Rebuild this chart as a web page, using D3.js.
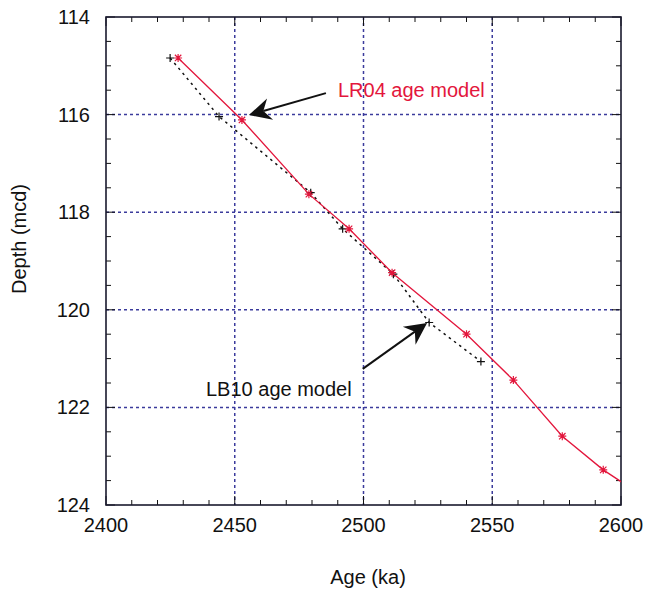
<!DOCTYPE html>
<html>
<head>
<meta charset="utf-8">
<script src="https://cdn.jsdelivr.net/npm/d3@7"></script>
<style>
  body { margin: 0; background: #fff; }
  text { font-family: "Liberation Sans", Arial, sans-serif; }
</style>
</head>
<body>
<svg id="chart" width="645" height="592"></svg>
<script>
// LR04 age model (age ka, depth mcd)
var lr04Age   = [2428.0, 2452.8, 2478.8, 2494.4, 2511.1, 2540.0, 2558.2, 2577.2, 2593.1, 2612.0];
var lr04Depth = [114.84, 116.11, 117.63, 118.34, 119.24, 120.50, 121.44, 122.59, 123.28, 123.94];

// LB10 age model
var lb10Age   = [2424.9, 2443.9, 2479.5, 2491.9, 2511.6, 2525.5, 2545.6];
var lb10Depth = [114.84, 116.04, 117.60, 118.34, 119.27, 120.26, 121.06];

var xTicks = [2400, 2450, 2500, 2550, 2600];
var yTicks = [114, 116, 118, 120, 122, 124];

// annotation arrows: [fromAge, fromDepth, toAge, toDepth]
var lr04Arrow = [2485.4, 115.56, 2455.5, 116.01];
var lb10Arrow = [2499.7, 121.21, 2524.7, 120.27];

var red = '#e3163c';
var gridColor = '#3b3b9c';

var svg = d3.select('#chart');
var xScale = d3.scaleLinear().domain([2400, 2600]).range([106, 621]);
var yScale = d3.scaleLinear().domain([114, 124]).range([17, 505]);
var x0 = xScale.range()[0], x1 = xScale.range()[1];
var y0 = yScale.range()[0], y1 = yScale.range()[1];

svg.append('defs').append('clipPath').attr('id', 'plotClip')
  .append('rect').attr('x', x0).attr('y', y0).attr('width', x1 - x0).attr('height', y1 - y0);

// grid
var gridG = svg.append('g')
    .attr('stroke', gridColor)
    .attr('stroke-width', 1.5)
    .attr('stroke-dasharray', '3,3');
gridG.selectAll('.vg').data(xTicks.slice(1, -1)).enter().append('line')
    .attr('x1', d => xScale(d)).attr('x2', d => xScale(d))
    .attr('y1', y0).attr('y2', y1);
gridG.selectAll('.hg').data(yTicks.slice(1, -1)).enter().append('line')
    .attr('y1', d => yScale(d)).attr('y2', d => yScale(d))
    .attr('x1', x0).attr('x2', x1);

// ticks on all sides (inward)
var xMinor = d3.range(2400, 2601, 10);
var yMinor = d3.range(114, 124.01, 0.5);
var tickG = svg.append('g').attr('stroke', '#111').attr('stroke-width', 1);
function tickLen(d, step) { return Math.abs(d / step - Math.round(d / step)) < 1e-6 ? 9 : 5; }
xMinor.forEach(function (d) {
  var l = tickLen(d, 50);
  tickG.append('line').attr('x1', xScale(d)).attr('x2', xScale(d)).attr('y1', y1).attr('y2', y1 - l);
  tickG.append('line').attr('x1', xScale(d)).attr('x2', xScale(d)).attr('y1', y0).attr('y2', y0 + l);
});
yMinor.forEach(function (d) {
  var l = tickLen(d, 2);
  tickG.append('line').attr('y1', yScale(d)).attr('y2', yScale(d)).attr('x1', x0).attr('x2', x0 + l);
  tickG.append('line').attr('y1', yScale(d)).attr('y2', yScale(d)).attr('x1', x1).attr('x2', x1 - l);
});

// border
svg.append('rect')
    .attr('x', x0).attr('y', y0).attr('width', x1 - x0).attr('height', y1 - y0)
    .attr('fill', 'none').attr('stroke', '#1a1a2e').attr('stroke-width', 1.6);

// tick labels
svg.append('g').selectAll('text').data(xTicks).enter().append('text')
    .attr('x', d => xScale(d)).attr('y', y1 + 27)
    .attr('text-anchor', 'middle').attr('font-size', 20).attr('fill', '#111')
    .text(d => d);
svg.append('g').selectAll('text').data(yTicks).enter().append('text')
    .attr('x', 90).attr('y', d => yScale(d) + 7)
    .attr('text-anchor', 'end').attr('font-size', 20).attr('fill', '#111')
    .text(d => d);

// axis titles
svg.append('text').attr('x', 368).attr('y', 584)
    .attr('text-anchor', 'middle').attr('font-size', 20).attr('fill', '#111')
    .text('Age (ka)');
svg.append('text').attr('transform', 'translate(26,239) rotate(-90)')
    .attr('text-anchor', 'middle').attr('font-size', 20).attr('fill', '#111')
    .text('Depth (mcd)');

// series
var plotG = svg.append('g').attr('clip-path', 'url(#plotClip)');
var line = d3.line().x(d => xScale(d[0])).y(d => yScale(d[1]));
var lb10 = lb10Age.map((a, i) => [a, lb10Depth[i]]);
var lr04 = lr04Age.map((a, i) => [a, lr04Depth[i]]);

plotG.append('path').datum(lb10).attr('d', line)
    .attr('fill', 'none').attr('stroke', '#111').attr('stroke-width', 1.5)
    .attr('stroke-dasharray', '2.5,4');
plotG.append('path').datum(lr04).attr('d', line)
    .attr('fill', 'none').attr('stroke', red).attr('stroke-width', 1.3);

// markers
var s = 4;
plotG.selectAll('.plus').data(lb10).enter().append('path')
    .attr('d', d => {
      var px = xScale(d[0]), py = yScale(d[1]);
      return `M${px - s},${py}H${px + s}M${px},${py - s}V${py + s}`;
    })
    .attr('stroke', '#111').attr('stroke-width', 1.2);
plotG.selectAll('.star').data(lr04).enter().append('path')
    .attr('d', d => {
      var px = xScale(d[0]), py = yScale(d[1]), k = 3.2;
      return `M${px - s},${py}H${px + s}M${px},${py - s}V${py + s}` +
        `M${px - k},${py - k}L${px + k},${py + k}M${px - k},${py + k}L${px + k},${py - k}`;
    })
    .attr('stroke', red).attr('stroke-width', 1.2);

// arrows
function drawArrow(a) {
  var sx = xScale(a[0]), sy = yScale(a[1]), tx = xScale(a[2]), ty = yScale(a[3]);
  var dx = sx - tx, dy = sy - ty, len = Math.sqrt(dx * dx + dy * dy);
  var ux = dx / len, uy = dy / len, px = -uy, py = ux;
  var hl = 22, hw = 11, notch = 15;
  var g = svg.append('g');
  g.append('line').attr('x1', sx).attr('y1', sy)
      .attr('x2', tx + ux * notch).attr('y2', ty + uy * notch)
      .attr('stroke', '#111').attr('stroke-width', 2);
  var pts = [
    [tx, ty],
    [tx + ux * hl + px * hw, ty + uy * hl + py * hw],
    [tx + ux * notch, ty + uy * notch],
    [tx + ux * hl - px * hw, ty + uy * hl - py * hw]
  ];
  g.append('path').attr('d', 'M' + pts.join('L') + 'Z').attr('fill', '#111');
}
drawArrow(lr04Arrow);
drawArrow(lb10Arrow);

// annotation labels
svg.append('text').attr('x', 338).attr('y', 97)
    .attr('font-size', 20).attr('fill', red).text('LR04 age model');
svg.append('text').attr('x', 206).attr('y', 396)
    .attr('font-size', 20).attr('fill', '#111').text('LB10 age model');
</script>
</body>
</html>
